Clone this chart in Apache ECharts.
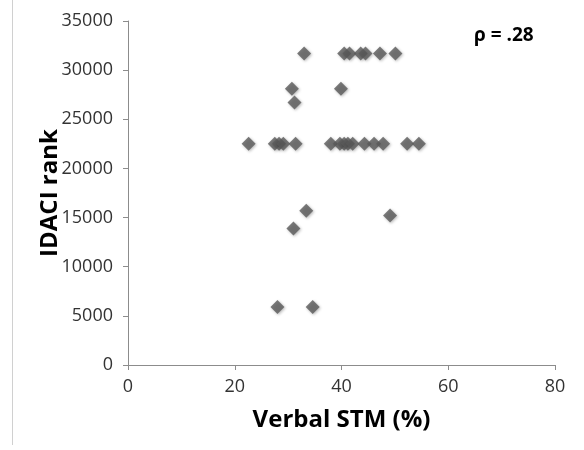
<!DOCTYPE html>
<html>
<head>
<meta charset="utf-8">
<script src="https://cdn.jsdelivr.net/npm/echarts@6/dist/echarts.min.js"></script>
<style>
html,body{margin:0;padding:0;background:#fff;}
#c{width:584px;height:450px;}
</style>
</head>
<body>
<div id="c"></div>
<script>
// Verbal STM (%) values
const stmValues = [
  33.0, 40.5, 41.5, 43.6, 44.5, 47.2, 50.1,
  30.7, 39.9,
  31.2,
  22.6, 27.5, 28.3, 29.1, 31.4,
  38.0, 39.7, 40.5, 41.2, 42.1, 44.3, 46.1, 47.8,
  52.3, 54.5,
  33.4, 49.1, 31.0,
  28.0, 34.6
];
// IDACI rank values
const idaciValues = [
  31700, 31700, 31700, 31700, 31700, 31700, 31700,
  28100, 28100,
  26700,
  22500, 22500, 22500, 22500, 22500,
  22500, 22500, 22500, 22500, 22500, 22500, 22500, 22500,
  22500, 22500,
  15700, 15200, 13900,
  5900, 5900
];
const xTicks = [0, 20, 40, 60, 80];
const yTicks = [0, 5000, 10000, 15000, 20000, 25000, 30000, 35000];
const corrLabel = 'ρ = .28';

const points = stmValues.map((v, i) => [v, idaciValues[i]]);

const chart = echarts.init(document.getElementById('c'), null, {renderer: 'canvas'});
const font = '"Open Sans", "DejaVu Sans", sans-serif';
chart.setOption({
  animation: false,
  backgroundColor: '#ffffff',
  grid: {left: 128, right: 29, top: 21, bottom: 85, containLabel: false},
  xAxis: {
    type: 'value', min: xTicks[0], max: xTicks[xTicks.length - 1], interval: 20,
    name: 'Verbal STM (%)', nameLocation: 'middle', nameGap: 43,
    nameTextStyle: {fontFamily: font, fontWeight: 'bold', fontSize: 24, color: '#000'},
    axisLine: {show: true, lineStyle: {color: '#8c8c8c', width: 1}},
    axisTick: {show: true, length: 5, inside: false, lineStyle: {color: '#8c8c8c'}},
    axisLabel: {fontFamily: font, fontSize: 18, color: '#333', margin: 13, formatter: v => String(v)},
    splitLine: {show: false}
  },
  yAxis: {
    type: 'value', min: yTicks[0], max: yTicks[yTicks.length - 1], interval: 5000,
    name: 'IDACI rank', nameLocation: 'middle', nameGap: 66, nameRotate: 90, nameMoveOverlap: false,
    nameTextStyle: {fontFamily: font, fontWeight: 'bold', fontSize: 24, color: '#000'},
    axisLine: {show: true, lineStyle: {color: '#8c8c8c', width: 1}},
    axisTick: {show: true, length: 5, inside: false, lineStyle: {color: '#8c8c8c'}},
    axisLabel: {fontFamily: font, fontSize: 18, color: '#333', margin: 15, formatter: v => String(v)},
    splitLine: {show: false}
  },
  graphic: [
    {type: 'line', shape: {x1: 12.5, y1: 0, x2: 12.5, y2: 445}, style: {stroke: '#d0d0d0', lineWidth: 1}},
    {type: 'text', left: 474, top: 26, style: {text: corrLabel, font: 'bold 19px ' + font, fill: '#000'}}
  ],
  series: [{
    type: 'scatter',
    data: points,
    symbol: 'diamond',
    symbolSize: 14,
    itemStyle: {color: '#5a5a5a', shadowBlur: 3, shadowColor: 'rgba(0,0,0,0.35)', shadowOffsetX: 1, shadowOffsetY: 1}
  }]
});
</script>
</body>
</html>
